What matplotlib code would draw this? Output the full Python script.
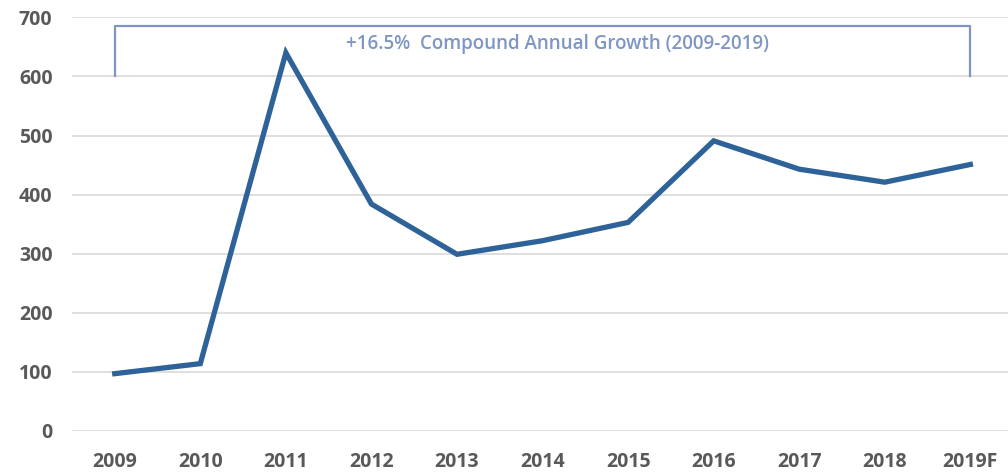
import numpy as np
import matplotlib
matplotlib.use('Agg')
import matplotlib.pyplot as plt

years = ['2009', '2010', '2011', '2012', '2013', '2014', '2015', '2016', '2017', '2018', '2019F']
values = [97, 114, 640, 384, 299, 322, 353, 491, 443, 421, 451]
yticks = [0, 100, 200, 300, 400, 500, 600, 700]
cagr_label = '+16.5%  Compound Annual Growth (2009-2019)'

plt.rcParams['font.family'] = ['Open Sans', 'DejaVu Sans']

fig = plt.figure(figsize=(10.08, 4.73), dpi=100)
ax = fig.add_axes([0.0714, 0.0888, 0.9286, 0.8746])

x = np.arange(len(years))
ax.plot(x, values, color='#2E6399', lw=3.8, solid_joinstyle='miter', zorder=3)

# bracket for CAGR
bcol = '#7F96C4'
ax.plot([0, 0, len(years) - 1, len(years) - 1], [600, 685, 685, 600], color=bcol, lw=1.6, zorder=2)
ax.text(5.17, 655, cagr_label, color=bcol, fontsize=13.5, fontweight='semibold',
        ha='center', va='center')

ax.set_xlim(-0.5, 10.44)
ax.set_ylim(0, 700)
ax.set_yticks(yticks)
ax.set_xticks(x)
ax.set_xticklabels(years, fontweight='bold')
ax.set_yticklabels([str(v) for v in yticks], fontweight='bold')
ax.grid(axis='y', color='#D9D9D9', lw=1.2)
ax.set_axisbelow(True)
for s in ax.spines.values():
    s.set_visible(False)
ax.tick_params(length=0, colors='#595959', labelsize=14)
ax.tick_params(axis='y', pad=14)
ax.tick_params(axis='x', pad=15)

fig.savefig('out.png', dpi=100)
